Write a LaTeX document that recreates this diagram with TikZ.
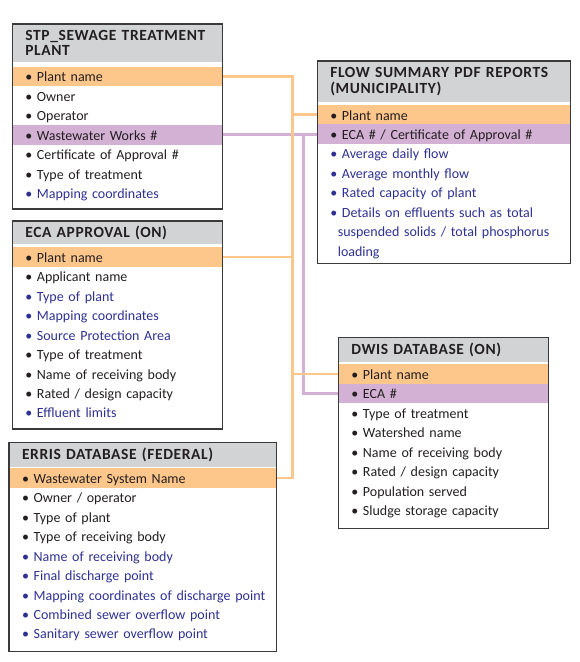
\documentclass[tikz,border=0pt]{standalone}
\usepackage{fontspec}
\setmainfont{Carlito}
\newfontfamily\hdrfont[LetterSpace=4]{Carlito}
\definecolor{hdr}{HTML}{D1D3D4}
\definecolor{org}{HTML}{FDC68A}
\definecolor{pur}{HTML}{D3B1D5}
\definecolor{blu}{HTML}{2E3192}
\definecolor{txt}{HTML}{231F20}
\definecolor{frm}{HTML}{3A3A3A}
\tikzset{
  bodyfont/.style={font=\fontsize{14}{15.5}\selectfont},
  row/.style={anchor=north west, inner xsep=13pt, inner ysep=0pt, outer sep=0pt,
    minimum height=19.45pt, align=left, text height=11.5pt, text depth=0.8pt,
    text=txt, bodyfont},
  hrow/.style={anchor=north west, inner xsep=13pt, inner ysep=0pt, outer sep=0pt,
    align=left, fill=hdr, text=txt,
    font=\hdrfont\fontsize{15.5}{15.5}\selectfont\bfseries},
  orow/.style={row, fill=org},
  prow/.style={row, fill=pur},
  brow/.style={row, text=blu},
  frame/.style={anchor=north west, draw=frm, line width=1.4pt, inner sep=0pt, outer sep=0pt},
  oline/.style={draw=org, line width=2.6pt},
  pline/.style={draw=pur, line width=2.6pt},
  wA/.style={text width=184.4pt},
  wB/.style={text width=227.4pt},
  wD/.style={text width=184pt},
  wE/.style={text width=241.7pt},
}
\begin{document}
\begin{tikzpicture}[x=1pt,y=-1pt]
\useasboundingbox (0,0) rectangle (580,662);
% ---------- STP box ----------
\node[hrow, wA, minimum height=38pt] (stp-h) at (12.3,24) {STP\_SEWAGE TREATMENT\\PLANT};
\node[orow, wA] (stp-plant) at (12.3,66.7) {• Plant name};
\node[row, wA] (stp-owner) at (stp-plant.south west) {• Owner};
\node[row, wA] (stp-op) at (stp-owner.south west) {• Operator};
\node[prow, wA] (stp-ww) at (stp-op.south west) {• Wastewater Works \#};
\node[row, wA] (stp-cert) at (stp-ww.south west) {• Certificate of Approval \#};
\node[row, wA] (stp-type) at (stp-cert.south west) {• Type of treatment};
\node[brow, wA] (stp-map) at (stp-type.south west) {• Mapping coordinates};
% ---------- FLOW box ----------
\node[hrow, wB, minimum height=40.7pt] (flow-h) at (317.3,61) {FLOW SUMMARY PDF REPORTS\\(MUNICIPALITY)};
\node[orow, wB] (flow-plant) at (317.3,105) {• Plant name};
\node[prow, wB] (flow-eca) at (flow-plant.south west) {\mbox{• ECA \# / Certificate of Approval \#}};
\node[brow, wB] (flow-daily) at (flow-eca.south west) {• Average daily flow};
\node[brow, wB] (flow-month) at (flow-daily.south west) {• Average monthly flow};
\node[brow, wB] (flow-rated) at (flow-month.south west) {• Rated capacity of plant};
\node[brow, wB] (flow-det1) at (flow-rated.south west) {\mbox{• Details on effluents such as total}};
\node[brow, wB] (flow-det2) at (flow-det1.south west) {\mbox{\hspace*{7.5pt}suspended solids / total phosphorus}};
\node[brow, wB] (flow-det3) at (flow-det2.south west) {\hspace*{7.5pt}loading};
% ---------- ECA box ----------
\node[hrow, wA, minimum height=23.3pt] (eca-h) at (12.3,221) {ECA APPROVAL (ON)};
\node[orow, wA] (eca-plant) at (12.3,247.3) {• Plant name};
\node[row, wA] (eca-app) at (eca-plant.south west) {• Applicant name};
\node[brow, wA] (eca-type) at (eca-app.south west) {• Type of plant};
\node[brow, wA] (eca-map) at (eca-type.south west) {• Mapping coordinates};
\node[brow, wA] (eca-src) at (eca-map.south west) {• Source Protection Area};
\node[row, wA] (eca-treat) at (eca-src.south west) {• Type of treatment};
\node[row, wA] (eca-recv) at (eca-treat.south west) {• Name of receiving body};
\node[row, wA] (eca-rated) at (eca-recv.south west) {• Rated / design capacity};
\node[brow, wA] (eca-eff) at (eca-rated.south west) {• Effluent limits};
% ---------- DWIS box ----------
\node[hrow, wD, minimum height=25pt] (dwis-h) at (338.3,337.3) {DWIS DATABASE (ON)};
\node[orow, wD] (dwis-plant) at (338.3,364.3) {• Plant name};
\node[prow, wD] (dwis-eca) at (dwis-plant.south west) {• ECA \#};
\node[row, wD] (dwis-treat) at (dwis-eca.south west) {• Type of treatment};
\node[row, wD] (dwis-ws) at (dwis-treat.south west) {• Watershed name};
\node[row, wD] (dwis-recv) at (dwis-ws.south west) {• Name of receiving body};
\node[row, wD] (dwis-rated) at (dwis-recv.south west) {• Rated / design capacity};
\node[row, wD] (dwis-pop) at (dwis-rated.south west) {• Population served};
\node[row, wD] (dwis-sludge) at (dwis-pop.south west) {• Sludge storage capacity};
% ---------- ERRIS box ----------
\node[hrow, wE, minimum height=24.4pt] (erris-h) at (9,442.3) {ERRIS DATABASE (FEDERAL)};
\node[orow, wE] (erris-name) at (9,468.3) {• Wastewater System Name};
\node[row, wE] (erris-own) at (erris-name.south west) {• Owner / operator};
\node[row, wE] (erris-type) at (erris-own.south west) {• Type of plant};
\node[row, wE] (erris-rtype) at (erris-type.south west) {• Type of receiving body};
\node[brow, wE] (erris-recv) at (erris-rtype.south west) {• Name of receiving body};
\node[brow, wE] (erris-final) at (erris-recv.south west) {• Final discharge point};
\node[brow, wE] (erris-map) at (erris-final.south west) {\mbox{• Mapping coordinates of discharge point}};
\node[brow, wE] (erris-cso) at (erris-map.south west) {• Combined sewer overflow point};
\node[brow, wE] (erris-sso) at (erris-cso.south west) {• Sanitary sewer overflow point};
% ---------- connectors ----------
\coordinate (otrunk) at (292.5,0);
\coordinate (ptrunk) at (303.3,0);
\draw[pline] (stp-ww.east) -- (stp-ww.east -| flow-eca.west);
\draw[pline] (ptrunk |- flow-eca.west) |- (dwis-eca.west);
\draw[oline] (stp-plant.east) -| (otrunk |- erris-name.east) -- (erris-name.east);
\draw[oline] (eca-plant.east) -- (eca-plant.east -| otrunk);
\draw[oline] (otrunk |- flow-plant.west) -- (flow-plant.west);
\draw[oline] (otrunk |- dwis-plant.west) -- (dwis-plant.west);
% ---------- frames ----------
\node[frame, minimum width=210.4pt, minimum height=185pt] (stp) at (12.3,24) {};
\node[frame, minimum width=253.4pt, minimum height=202.3pt] (flow) at (317.3,61) {};
\node[frame, minimum width=210.4pt, minimum height=208pt] (eca) at (12.3,221) {};
\node[frame, minimum width=210pt, minimum height=191pt] (dwis) at (338.3,337.3) {};
\node[frame, minimum width=267.7pt, minimum height=209.4pt] (erris) at (9,442.3) {};
\end{tikzpicture}
\end{document}
